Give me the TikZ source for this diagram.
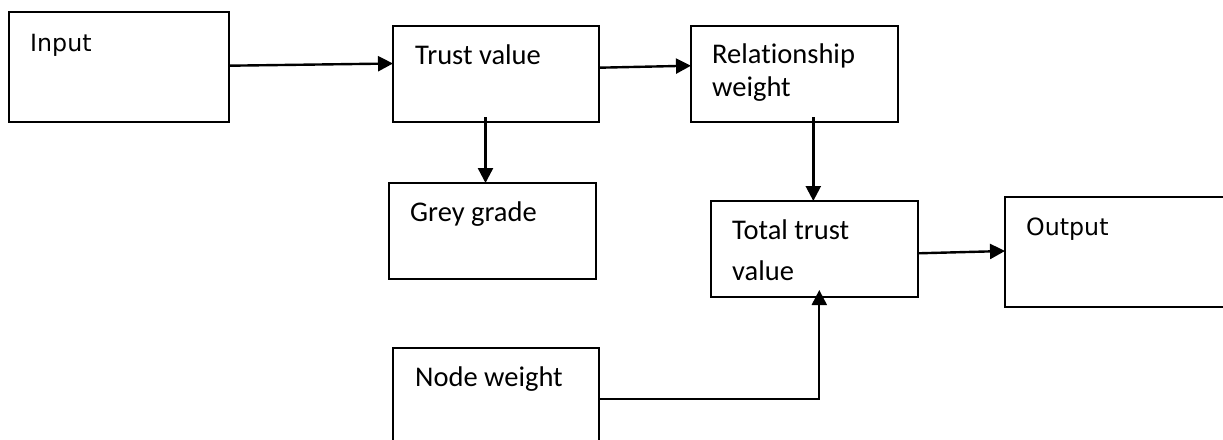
\documentclass[tikz,border=0pt]{standalone}
\usepackage{fontspec}
\usetikzlibrary{arrows.meta,calc}
\newfontfamily\carl[Ligatures=NoCommon]{Carlito}
\newfontfamily\dejav{DejaVu Sans}
\begin{document}
\begin{tikzpicture}[x=1pt,y=-1pt,
  box/.style={draw=black,line width=1.6pt,rectangle,inner sep=0pt,outer sep=0pt,anchor=north west},
  ctext/.style={anchor=base west,inner sep=0pt,font=\carl\fontsize{28.5}{34}\selectfont},
  dtext/.style={anchor=base west,inner sep=0pt,font=\dejav\fontsize{23.7}{28}\selectfont},
  arr/.style={line width=2.4pt,-{Triangle[length=15pt,width=15pt]}},
  link/.style={line width=2pt,-{Triangle[length=15pt,width=15pt]}}]
\useasboundingbox (0,0) rectangle (1223,439);
\clip (0,0) rectangle (1223,439);
% boxes
\node[box,minimum width=220pt,minimum height=110pt] (in) at (9,12) {};
\node[box,minimum width=206pt,minimum height=96pt] (tv) at (393,26) {};
\node[box,minimum width=207pt,minimum height=96pt] (rw) at (691,26) {};
\node[box,minimum width=207pt,minimum height=96pt] (gg) at (389,183) {};
\node[box,minimum width=207pt,minimum height=96pt] (tt) at (711,201) {};
\node[box,minimum width=240pt,minimum height=110pt] (out) at (1005,197) {};
\node[box,minimum width=206pt,minimum height=112pt] (nw) at (393,348) {};
% texts
\node[dtext] (tin) at (30,51.5) {Input};
\node[ctext] (ttv) at (415,64) {Trust value};
\node[ctext] (trw1) at (712,63.3) {Relationship};
\node[ctext] (trw2) at (712,96.7) {weight};
\node[ctext] (tgg) at (410,221) {Grey grade};
\node[ctext] (ttt1) at (732,239.3) {Total trust};
\node[ctext] (ttt2) at (732,280) {value};
\node[dtext] (tout) at (1026,235.5) {Output};
\node[ctext] (tnw) at (415,386.7) {Node weight};
% connectors
\draw[arr] ([yshift=1.3pt]in.east) -- ([yshift=10.5pt]tv.west);
\draw[arr] ([yshift=6.3pt]tv.east) -- ([yshift=8.3pt]rw.west);
\draw[arr] ([xshift=-10.5pt,yshift=5pt]tv.south) -- ([xshift=-7pt]gg.north);
\draw[arr] ([xshift=18.8pt,yshift=5pt]rw.south) -- ([xshift=-1.2pt]tt.north);
\draw[arr] ([yshift=-4.3pt]tt.east) -- ([yshift=1pt]out.west);
\draw[link] ([yshift=4.7pt]nw.east) -| ([xshift=4.8pt,yshift=7pt]tt.south);
\end{tikzpicture}
\end{document}
